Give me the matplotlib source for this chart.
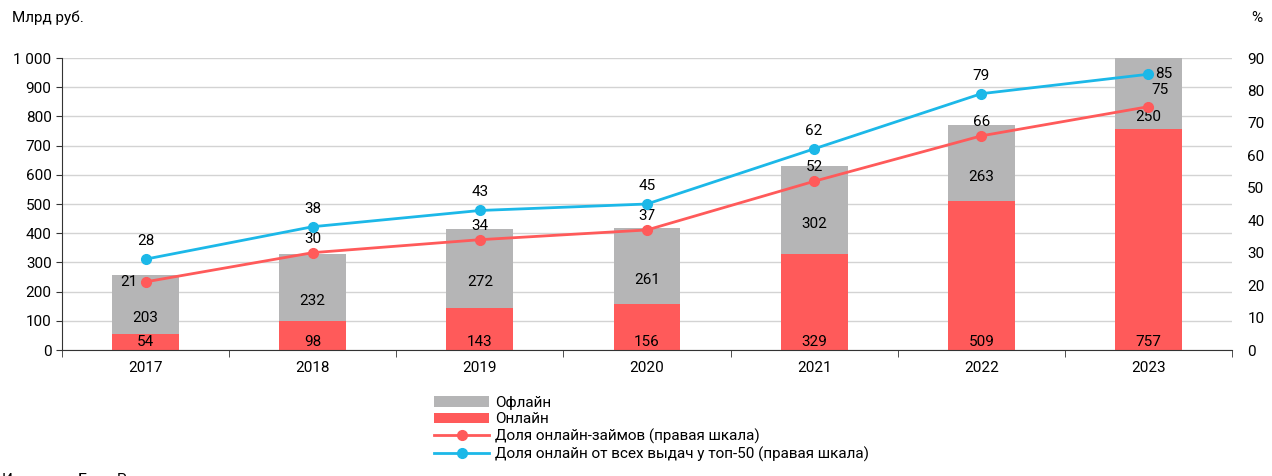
import matplotlib
matplotlib.use("Agg")
import matplotlib.pyplot as plt
import numpy as np
from matplotlib.ticker import FuncFormatter, MultipleLocator

plt.rcParams['font.family'] = ['Roboto', 'DejaVu Sans']

years = ['2017', '2018', '2019', '2020', '2021', '2022', '2023']
online = [54, 98, 143, 156, 329, 509, 757]
offline = [203, 232, 272, 261, 302, 263, 250]
share_online = [21, 30, 34, 37, 52, 66, 75]
share_top50 = [28, 38, 43, 45, 62, 79, 85]

GREY = '#B5B5B6'
RED = '#FF5A5A'
BLUE = '#1CB8E8'

fig = plt.figure(figsize=(12.72, 4.76), dpi=100)
ax = fig.add_axes([62/1272, 1-350/476, (1232-62)/1272, (350-58)/476])
x = np.arange(len(years))
w = 0.4
ax.bar(x, offline, w, bottom=online, color=GREY, label='Офлайн', zorder=2)
ax.bar(x, online, w, color=RED, label='Онлайн', zorder=2)
ax.set_ylim(0, 1000)
ax.set_xlim(-0.5, len(years)-0.5)
ax.yaxis.set_major_locator(MultipleLocator(100))
ax.yaxis.set_major_formatter(FuncFormatter(lambda v, p: f"{int(v):,}".replace(',', ' ')))
ax.grid(axis='y', color='#D3D3D3', lw=1, zorder=0)
ax.set_axisbelow(True)
for s in ['top', 'right']:
    ax.spines[s].set_visible(False)
ax.spines['left'].set_color('#333333')
ax.spines['bottom'].set_color('#333333')
ax.set_xticks(x)
ax.set_xticklabels(years)
ax.tick_params(axis='x', length=0, labelsize=11, pad=8)
ax.set_xticks(np.arange(-0.5, len(years), 1), minor=True)
ax.tick_params(axis='x', which='minor', length=5, color='#333333')
ax.tick_params(axis='y', length=4, labelsize=11, color='#333333')

for i in range(len(years)):
    ax.text(x[i], 4, str(online[i]), ha='center', va='bottom', fontsize=11, color='black', zorder=5)
    top = min(online[i] + offline[i], 1000)
    ctr = (online[i] + top) / 2
    off = -17 if online[i] + offline[i] > 1000 else -10
    ax.annotate(str(offline[i]), (x[i], ctr), xytext=(0, off), textcoords='offset points',
                ha='center', va='center', fontsize=11, zorder=5)

ax2 = ax.twinx()
ax2.set_ylim(0, 90)
ax2.yaxis.set_major_locator(MultipleLocator(10))
for s in ['top', 'right', 'left', 'bottom']:
    ax2.spines[s].set_visible(False)
ax2.tick_params(axis='y', length=0, labelsize=11, pad=11)
l1, = ax2.plot(x, share_online, color=RED, lw=2, marker='o', ms=7, label='Доля онлайн-займов (правая шкала)', zorder=4)
l2, = ax2.plot(x, share_top50, color=BLUE, lw=2, marker='o', ms=7, label='Доля онлайн от всех выдач у топ-50 (правая шкала)', zorder=4)

for i in range(len(years)):
    if i == 0:
        ax2.annotate(str(share_online[i]), (x[i], share_online[i]), xytext=(-12, 0), textcoords='offset points',
                     ha='center', va='center', fontsize=11)
    elif i == len(years) - 1:
        ax2.annotate(str(share_online[i]), (x[i], share_online[i]), xytext=(8, 7), textcoords='offset points',
                     ha='center', va='bottom', fontsize=11)
    else:
        ax2.annotate(str(share_online[i]), (x[i], share_online[i]), xytext=(0, 5), textcoords='offset points',
                     ha='center', va='bottom', fontsize=11)
    if i == len(years) - 1:
        ax2.annotate(str(share_top50[i]), (x[i], share_top50[i]), xytext=(5, 0), textcoords='offset points',
                     ha='left', va='center', fontsize=11)
    else:
        ax2.annotate(str(share_top50[i]), (x[i], share_top50[i]), xytext=(0, 8), textcoords='offset points',
                     ha='center', va='bottom', fontsize=11)

handles, labels = ax.get_legend_handles_labels()
handles += [l1, l2]
labels += [l1.get_label(), l2.get_label()]
fig.legend(handles, labels, loc='upper left', bbox_to_anchor=(428/1272, 1-390/476), frameon=False,
           fontsize=11, handlelength=3.6, handleheight=0.7, labelspacing=0.15, handletextpad=0.4,
           borderaxespad=0)

fig.text(12/1272, 1-18/476, 'Млрд руб.', ha='left', va='center', fontsize=11)
fig.text(1257/1272, 1-18/476, '%', ha='center', va='center', fontsize=11)
fig.text(2/1272, 1-473/476, 'Источник: Банк России', ha='left', va='top', fontsize=11)

fig.savefig('out.png', dpi=100)
